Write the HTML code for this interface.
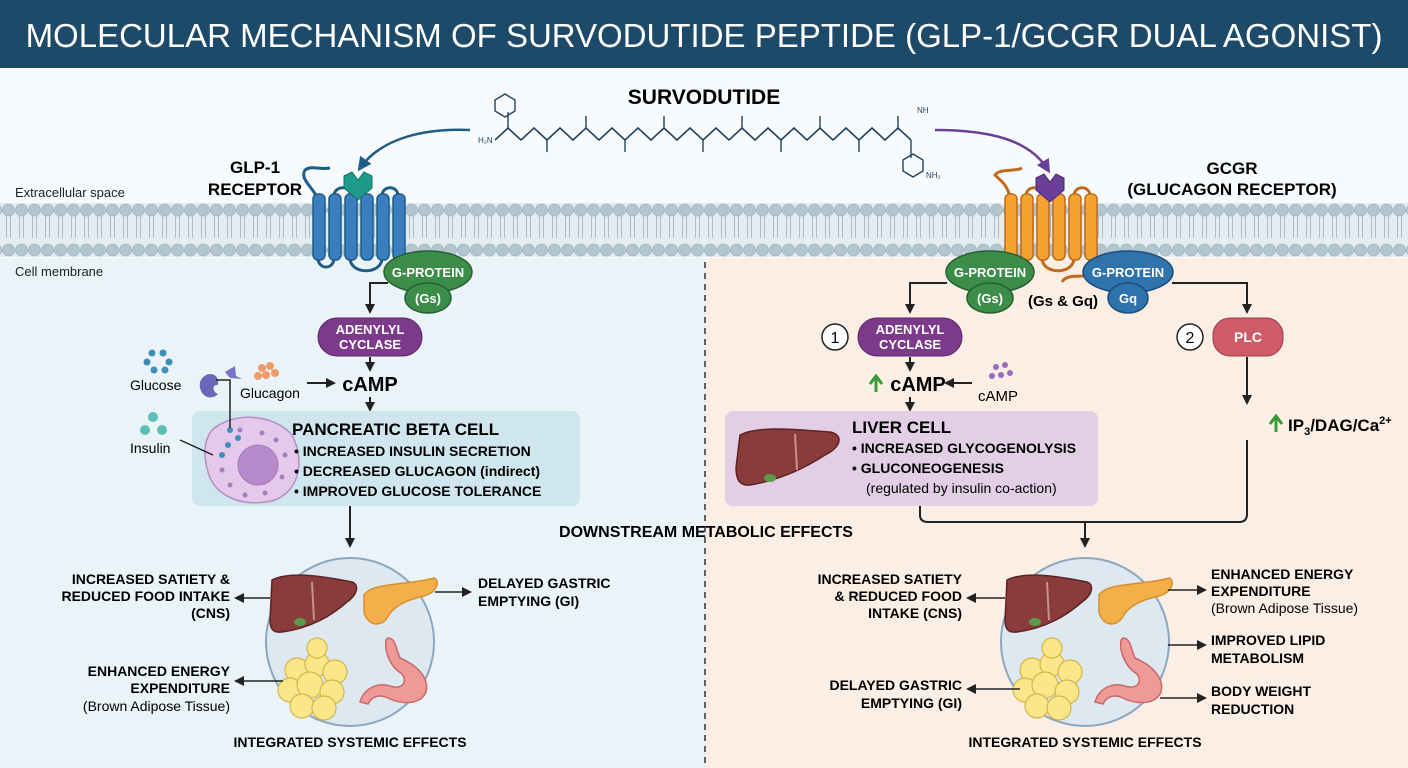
<!DOCTYPE html>
<html><head><meta charset="utf-8"><style>
html,body{margin:0;padding:0;width:1408px;height:768px;overflow:hidden;background:#fff}
svg{display:block;font-family:"Liberation Sans",Arial,sans-serif;overflow:hidden}
.b{font-weight:bold}
</style></head><body>
<svg width="1408" height="768" viewBox="0 0 1408 768" xmlns="http://www.w3.org/2000/svg">
<defs>
<marker id="ah" markerWidth="10" markerHeight="10" refX="8" refY="5" orient="auto" markerUnits="userSpaceOnUse"><path d="M0,0 L10,5 L0,10 z" fill="#222"/></marker>
<marker id="ahb" markerWidth="14" markerHeight="14" refX="10" refY="7" orient="auto" markerUnits="userSpaceOnUse"><path d="M0,0 L14,7 L0,14 z" fill="#1f5d86"/></marker>
<marker id="ahp" markerWidth="14" markerHeight="14" refX="10" refY="7" orient="auto" markerUnits="userSpaceOnUse"><path d="M0,0 L14,7 L0,14 z" fill="#6b3f98"/></marker>
<pattern id="mem" x="2" y="0" width="13" height="768" patternUnits="userSpaceOnUse">
<path d="M4.5,216 V238 M8.5,216 V238" stroke="#a9bcc7" stroke-width="1"/>
<circle cx="6.5" cy="210" r="6" fill="#b3c5cf" stroke="#9fb3bf" stroke-width="0.8"/>
<circle cx="6.5" cy="250" r="6" fill="#b3c5cf" stroke="#9fb3bf" stroke-width="0.8"/>
</pattern>
<g id="organs">
<path d="M-80,-60 C-60,-70 -20,-62 0,-58 C8,-55 5,-45 -5,-38 C-20,-25 -40,-12 -70,-8 C-78,-7 -82,-10 -82,-20 Z" fill="#8a3b3b" stroke="#5e2222" stroke-width="1.5"/>
<path d="M-40,-58 L-38,-20" stroke="#c89090" stroke-width="2"/>
<ellipse cx="-52" cy="-18" rx="6" ry="4" fill="#5a9a4a"/>
<path d="M12,-45 C20,-58 60,-55 82,-62 C88,-60 86,-48 72,-44 C55,-40 42,-35 35,-22 C28,-12 15,-15 12,-28 Z" fill="#f3b04a" stroke="#d98f2a" stroke-width="1.5"/>
<g fill="#fbe68a" stroke="#d4b64a" stroke-width="1.2">
<circle cx="-55" cy="30" r="12"/><circle cx="-35" cy="24" r="12"/><circle cx="-17" cy="32" r="12"/><circle cx="-62" cy="50" r="12"/><circle cx="-42" cy="45" r="13"/><circle cx="-20" cy="52" r="12"/><circle cx="-50" cy="66" r="12"/><circle cx="-28" cy="68" r="12"/><circle cx="-35" cy="8" r="10"/>
</g>
<path d="M36,-2 C44,-2 44,10 48,18 C62,24 78,36 74,52 C68,66 48,64 36,58 C28,54 20,56 16,64 L8,62 C12,48 26,42 38,46 C50,50 56,42 50,34 C40,28 32,14 34,0 Z" fill="#ef9a98" stroke="#c86868" stroke-width="1.5"/>
</g>
</defs>

<rect x="0" y="68" width="1408" height="700" fill="#f7fbfd"/>
<rect x="0" y="258" width="705" height="510" fill="#eaf4f8"/>
<rect x="705" y="258" width="703" height="510" fill="#fbefe5"/>
<rect x="0" y="0" width="1408" height="68" fill="#1c4a68"/>
<text x="704" y="47" font-size="33" fill="#fff" text-anchor="middle">MOLECULAR MECHANISM OF SURVODUTIDE PEPTIDE (GLP-1/GCGR DUAL AGONIST)</text>

<rect x="0" y="203" width="1408" height="54" fill="#e3ecf1"/>
<rect x="0" y="195" width="1408" height="70" fill="url(#mem)"/>

<text x="15" y="197" font-size="13" fill="#222">Extracellular space</text>
<text x="15" y="276" font-size="13" fill="#222">Cell membrane</text>

<line x1="705" y1="262" x2="705" y2="768" stroke="#333" stroke-width="1.5" stroke-dasharray="6 5"/>

<text x="704" y="104" font-size="21" class="b" text-anchor="middle">SURVODUTIDE</text>
<polyline points="495,140 508,128 521,140 534,128 547,140 560,128 573,140 586,128 599,140 612,128 625,140 638,128 651,140 664,128 677,140 690,128 703,140 716,128 729,140 742,128 755,140 768,128 781,140 794,128 807,140 820,128 833,140 846,128 859,140 872,128 885,140 898,128 911,140" fill="none" stroke="#24445e" stroke-width="1.6"/>
<g stroke="#24445e" stroke-width="1.4" fill="none">
<path d="M508,128 V112 M547,140 V152 M586,128 V116 M625,140 V152 M664,128 V116 M703,140 V152 M742,128 V116 M781,140 V152 M820,128 V116 M859,140 V152 M898,128 V116 M911,140 V158"/>
<polygon points="495,100 505,94 515,100 515,111 505,117 495,111"/>
<polygon points="903,160 913,154 923,160 923,171 913,177 903,171"/>
</g>
<text x="478" y="143" font-size="8" fill="#24445e">H₂N</text>
<text x="917" y="113" font-size="8" fill="#24445e">NH</text>
<text x="926" y="178" font-size="8" fill="#24445e">NH₂</text>
<path d="M470,130 C420,128 380,140 360,168" fill="none" stroke="#1f5d86" stroke-width="2.5" marker-end="url(#ahb)"/>
<path d="M935,130 C990,130 1030,140 1048,170" fill="none" stroke="#6b3f98" stroke-width="2.5" marker-end="url(#ahp)"/>

<text x="255" y="173" font-size="17" class="b" text-anchor="middle">GLP-1</text>
<text x="255" y="195" font-size="17" class="b" text-anchor="middle">RECEPTOR</text>
<g fill="none" stroke="#1f5d86" stroke-width="3">
<path d="M318,198 C310,185 300,178 305,170 C312,165 320,170 330,168"/>
<path d="M334,196 C334,185 352,185 350,196"/>
<path d="M382,196 C382,185 398,185 398,196"/>
<path d="M318,258 C318,270 334,270 334,258"/>
<path d="M350,258 C350,275 382,275 382,258"/>
</g>
<g fill="#3b7ec0" stroke="#1f5d86" stroke-width="1.5">
<rect x="313" y="194" width="12" height="66" rx="5"/><rect x="329" y="194" width="12" height="66" rx="5"/><rect x="345" y="194" width="12" height="66" rx="5"/><rect x="361" y="194" width="12" height="66" rx="5"/><rect x="377" y="194" width="12" height="66" rx="5"/><rect x="393" y="194" width="12" height="66" rx="5"/>
</g>
<path d="M344,176 L352,172 L358,180 L364,172 L372,176 L372,188 L358,200 L344,188 Z" fill="#1f9a8a" stroke="#137065"/>

<ellipse cx="428" cy="272" rx="44" ry="21" fill="#3c8d4a" stroke="#24602f" stroke-width="1.5"/>
<text x="428" y="277" font-size="13" fill="#fff" text-anchor="middle" class="b">G-PROTEIN</text>
<ellipse cx="428" cy="298" rx="23" ry="15" fill="#3c8d4a" stroke="#24602f" stroke-width="1.5"/>
<text x="428" y="303" font-size="13" fill="#fff" text-anchor="middle" class="b">(Gs)</text>
<path d="M388,283 H370 V312" fill="none" stroke="#222" stroke-width="2" marker-end="url(#ah)"/>
<rect x="318" y="318" width="104" height="38" rx="19" fill="#7b3a8a" stroke="#5a2466"/>
<text x="370" y="334" font-size="13" fill="#fff" text-anchor="middle" class="b">ADENYLYL</text>
<text x="370" y="349" font-size="13" fill="#fff" text-anchor="middle" class="b">CYCLASE</text>
<line x1="370" y1="357" x2="370" y2="370" stroke="#222" stroke-width="2" marker-end="url(#ah)"/>
<text x="370" y="391" font-size="20" class="b" text-anchor="middle">cAMP</text>
<line x1="307" y1="383" x2="334" y2="383" stroke="#222" stroke-width="2" marker-end="url(#ah)"/>
<line x1="370" y1="397" x2="370" y2="410" stroke="#222" stroke-width="2" marker-end="url(#ah)"/>
<g fill="#3c8fb8"><circle cx="152" cy="353" r="3.5"/><circle cx="163" cy="353" r="3.5"/><circle cx="147" cy="362" r="3.5"/><circle cx="169" cy="362" r="3.5"/><circle cx="154" cy="370" r="3.5"/><circle cx="165" cy="370" r="3.5"/></g>
<text x="130" y="390" font-size="14">Glucose</text>
<path d="M200,382 C205,370 220,372 218,385 C212,384 212,392 218,394 C210,402 198,395 200,382Z" fill="#6a66b8"/>
<path d="M225,372 L235,366 L236,376 L242,379 L230,378 Z" fill="#7a72c4"/>
<g fill="#ef9a6a"><circle cx="262" cy="368" r="4"/><circle cx="270" cy="366" r="4"/><circle cx="258" cy="376" r="4"/><circle cx="266" cy="375" r="4"/><circle cx="275" cy="373" r="4"/></g>
<text x="240" y="398" font-size="14">Glucagon</text>
<g fill="#5cc0b8"><circle cx="153" cy="417" r="5"/><circle cx="145" cy="430" r="5"/><circle cx="162" cy="430" r="5"/></g>
<text x="130" y="453" font-size="14">Insulin</text>
<rect x="192" y="411" width="388" height="95" rx="8" fill="#cfe6ee"/>
<path d="M212,430 C235,410 275,415 292,435 C305,460 300,490 275,500 C245,508 215,498 208,472 C203,455 204,440 212,430Z" fill="#e4c9ec" stroke="#b38fc4" stroke-width="1.5"/>
<circle cx="258" cy="465" r="20" fill="#b78acb" stroke="#a07ab6"/>
<g fill="#a57dbf"><circle cx="240" cy="430" r="2.5"/><circle cx="262" cy="433" r="2.5"/><circle cx="276" cy="440" r="2.5"/><circle cx="285" cy="455" r="2.5"/><circle cx="222" cy="470" r="2.5"/><circle cx="230" cy="485" r="2.5"/><circle cx="282" cy="477" r="2.5"/><circle cx="245" cy="495" r="2.5"/><circle cx="265" cy="493" r="2.5"/></g>
<g fill="#3c8fb8"><circle cx="230" cy="430" r="3"/><circle cx="238" cy="438" r="3"/><circle cx="228" cy="445" r="3"/><circle cx="222" cy="455" r="3"/></g>
<path d="M216,380 H230 V428" fill="none" stroke="#222" stroke-width="1.5"/>
<line x1="180" y1="440" x2="213" y2="455" stroke="#222" stroke-width="1.5"/>
<text x="292" y="435" font-size="17" class="b">PANCREATIC BETA CELL</text>
<g font-size="14" class="b"><text x="294" y="456">• INCREASED INSULIN SECRETION</text><text x="294" y="476">• DECREASED GLUCAGON (indirect)</text><text x="294" y="496">• IMPROVED GLUCOSE TOLERANCE</text></g>
<line x1="350" y1="506" x2="350" y2="546" stroke="#222" stroke-width="2" marker-end="url(#ah)"/>

<circle cx="350" cy="642" r="84" fill="#dde8f0" stroke="#8ea6bf" stroke-width="2"/>
<use href="#organs" transform="translate(352,640)"/>
<g font-size="14" class="b" text-anchor="end"><text x="230" y="584">INCREASED SATIETY &amp;</text><text x="230" y="601">REDUCED FOOD INTAKE</text><text x="230" y="618">(CNS)</text>
<text x="230" y="676">ENHANCED ENERGY</text><text x="230" y="693">EXPENDITURE</text></g>
<text x="230" y="711" font-size="14" text-anchor="end">(Brown Adipose Tissue)</text>
<line x1="270" y1="598" x2="236" y2="598" stroke="#222" stroke-width="1.5" marker-end="url(#ah)"/>
<line x1="283" y1="681" x2="236" y2="681" stroke="#222" stroke-width="1.5" marker-end="url(#ah)"/>
<line x1="435" y1="592" x2="470" y2="592" stroke="#222" stroke-width="1.5" marker-end="url(#ah)"/>
<g font-size="14" class="b"><text x="478" y="588">DELAYED GASTRIC</text><text x="478" y="606">EMPTYING (GI)</text></g>
<text x="350" y="747" font-size="14" class="b" text-anchor="middle">INTEGRATED SYSTEMIC EFFECTS</text>

<text x="706" y="537" font-size="16" class="b" text-anchor="middle">DOWNSTREAM METABOLIC EFFECTS</text>

<text x="1232" y="174" font-size="17" class="b" text-anchor="middle">GCGR</text>
<text x="1232" y="195" font-size="17" class="b" text-anchor="middle">(GLUCAGON RECEPTOR)</text>
<g fill="none" stroke="#c06a1c" stroke-width="3">
<path d="M1010,198 C1008,185 1000,180 995,175 C1000,168 1015,172 1022,168"/>
<path d="M1026,196 C1026,185 1042,185 1042,196"/>
<path d="M1074,196 C1074,185 1090,185 1090,196"/>
<path d="M1042,258 C1042,275 1074,275 1074,258"/>
<path d="M1062,282 C1065,276 1072,276 1090,276"/>
</g>
<g fill="#f5a330" stroke="#c06a1c" stroke-width="1.5">
<rect x="1005" y="194" width="12" height="66" rx="5"/><rect x="1021" y="194" width="12" height="66" rx="5"/><rect x="1037" y="194" width="12" height="66" rx="5"/><rect x="1053" y="194" width="12" height="66" rx="5"/><rect x="1069" y="194" width="12" height="66" rx="5"/><rect x="1085" y="194" width="12" height="66" rx="5"/>
</g>
<path d="M1036,178 L1044,174 L1050,182 L1056,174 L1064,178 L1064,190 L1050,202 L1036,190 Z" fill="#6b3f98" stroke="#4a2870"/>
<ellipse cx="990" cy="272" rx="44" ry="21" fill="#3c8d4a" stroke="#24602f" stroke-width="1.5"/>
<text x="990" y="277" font-size="13" fill="#fff" text-anchor="middle" class="b">G-PROTEIN</text>
<ellipse cx="990" cy="298" rx="23" ry="15" fill="#3c8d4a" stroke="#24602f" stroke-width="1.5"/>
<text x="990" y="303" font-size="13" fill="#fff" text-anchor="middle" class="b">(Gs)</text>
<ellipse cx="1128" cy="272" rx="45" ry="21" fill="#2f73ad" stroke="#1c4d7a" stroke-width="1.5"/>
<text x="1128" y="277" font-size="13" fill="#fff" text-anchor="middle" class="b">G-PROTEIN</text>
<ellipse cx="1128" cy="298" rx="20" ry="15" fill="#2f73ad" stroke="#1c4d7a" stroke-width="1.5"/>
<text x="1128" y="303" font-size="13" fill="#fff" text-anchor="middle" class="b">Gq</text>
<text x="1063" y="306" font-size="15" class="b" text-anchor="middle">(Gs &amp; Gq)</text>
<path d="M947,283 H910 V312" fill="none" stroke="#222" stroke-width="2" marker-end="url(#ah)"/>
<path d="M1172,283 H1247 V312" fill="none" stroke="#222" stroke-width="2" marker-end="url(#ah)"/>
<circle cx="835" cy="337" r="13" fill="#fff" stroke="#222" stroke-width="1.5"/><text x="835" y="343" font-size="16" text-anchor="middle">1</text>
<circle cx="1190" cy="337" r="13" fill="#fff" stroke="#222" stroke-width="1.5"/><text x="1190" y="343" font-size="16" text-anchor="middle">2</text>
<rect x="858" y="318" width="104" height="38" rx="19" fill="#7b3a8a" stroke="#5a2466"/>
<text x="910" y="334" font-size="13" fill="#fff" text-anchor="middle" class="b">ADENYLYL</text>
<text x="910" y="349" font-size="13" fill="#fff" text-anchor="middle" class="b">CYCLASE</text>
<rect x="1213" y="318" width="70" height="38" rx="17" fill="#cf5a68" stroke="#a03a48"/>
<text x="1248" y="342" font-size="14" fill="#fff" text-anchor="middle" class="b">PLC</text>
<line x1="910" y1="357" x2="910" y2="370" stroke="#222" stroke-width="2" marker-end="url(#ah)"/>
<text x="918" y="391" font-size="20" class="b" text-anchor="middle">cAMP</text>
<path d="M876,392 V378 M870,384 L876,376 L882,384" stroke="#3c9a3c" stroke-width="3" fill="none"/>
<line x1="972" y1="383" x2="946" y2="383" stroke="#222" stroke-width="2" marker-end="url(#ah)"/>
<g fill="#9b6ac0"><circle cx="996" cy="367" r="3"/><circle cx="1005" cy="365" r="3"/><circle cx="992" cy="376" r="3"/><circle cx="1001" cy="375" r="3"/><circle cx="1010" cy="373" r="3"/></g>
<text x="978" y="401" font-size="15">cAMP</text>
<line x1="910" y1="397" x2="910" y2="410" stroke="#222" stroke-width="2" marker-end="url(#ah)"/>
<rect x="725" y="411" width="373" height="95" rx="8" fill="#e2cfe6"/>
<path d="M740,435 C760,425 800,430 830,432 C845,435 840,448 825,455 C805,468 780,480 750,485 C740,486 736,480 736,468 Z" fill="#8a3b3b" stroke="#5e2222" stroke-width="1.5"/>
<path d="M795,434 L797,470" stroke="#c89090" stroke-width="2"/>
<ellipse cx="770" cy="478" rx="6" ry="4" fill="#5a9a4a"/>
<text x="852" y="433" font-size="17" class="b">LIVER CELL</text>
<g font-size="14" class="b"><text x="852" y="453">• INCREASED GLYCOGENOLYSIS</text><text x="852" y="473">• GLUCONEOGENESIS</text></g>
<text x="866" y="493" font-size="14">(regulated by insulin co-action)</text>
<line x1="1247" y1="357" x2="1247" y2="403" stroke="#222" stroke-width="2" marker-end="url(#ah)"/>
<path d="M1276,432 V418 M1270,424 L1276,416 L1282,424" stroke="#3c9a3c" stroke-width="3" fill="none"/>
<text x="1288" y="431" font-size="17" class="b">IP<tspan font-size="11" dy="4">3</tspan><tspan dy="-4">/DAG/Ca</tspan><tspan font-size="11" dy="-7">2+</tspan></text>
<path d="M920,506 V515 Q920,522 928,522 H1239 Q1247,522 1247,514 V440" fill="none" stroke="#222" stroke-width="2"/>
<line x1="1085" y1="522" x2="1085" y2="546" stroke="#222" stroke-width="2" marker-end="url(#ah)"/>

<circle cx="1085" cy="642" r="84" fill="#dde8f0" stroke="#8ea6bf" stroke-width="2"/>
<use href="#organs" transform="translate(1087,640)"/>
<g font-size="14" class="b" text-anchor="end"><text x="962" y="584">INCREASED SATIETY</text><text x="962" y="601">&amp; REDUCED FOOD</text><text x="962" y="618">INTAKE (CNS)</text>
<text x="962" y="690">DELAYED GASTRIC</text><text x="962" y="708">EMPTYING (GI)</text></g>
<line x1="1005" y1="598" x2="968" y2="598" stroke="#222" stroke-width="1.5" marker-end="url(#ah)"/>
<line x1="1020" y1="689" x2="968" y2="689" stroke="#222" stroke-width="1.5" marker-end="url(#ah)"/>
<line x1="1168" y1="590" x2="1205" y2="590" stroke="#222" stroke-width="1.5" marker-end="url(#ah)"/>
<line x1="1168" y1="645" x2="1205" y2="645" stroke="#222" stroke-width="1.5" marker-end="url(#ah)"/>
<line x1="1160" y1="698" x2="1205" y2="698" stroke="#222" stroke-width="1.5" marker-end="url(#ah)"/>
<g font-size="14" class="b"><text x="1211" y="579">ENHANCED ENERGY</text><text x="1211" y="596">EXPENDITURE</text>
<text x="1211" y="645">IMPROVED LIPID</text><text x="1211" y="663">METABOLISM</text>
<text x="1211" y="696">BODY WEIGHT</text><text x="1211" y="714">REDUCTION</text></g>
<text x="1211" y="613" font-size="14">(Brown Adipose Tissue)</text>
<text x="1085" y="747" font-size="14" class="b" text-anchor="middle">INTEGRATED SYSTEMIC EFFECTS</text>
</svg>
</body></html>
